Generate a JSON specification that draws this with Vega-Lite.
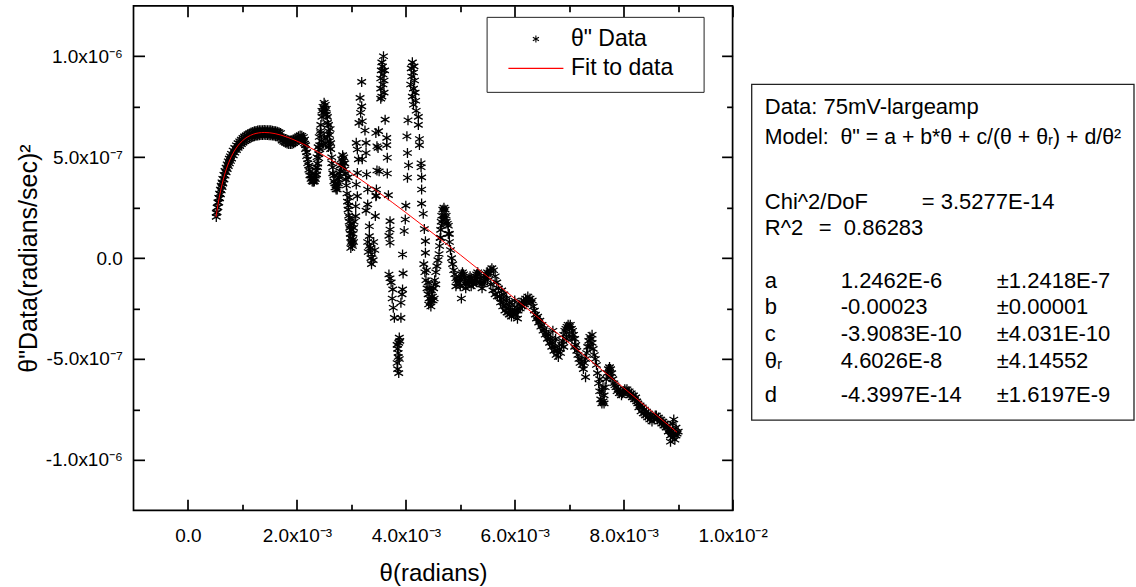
{
"$schema":"https://vega.github.io/schema/vega-lite/v6.json",
"background":"white",
"padding":{"left":15.5,"top":3.85,"right":0,"bottom":0},
"autosize":{"type":"pad"},
"bounds":"flush",
"spacing":18,
"config":{"font":"Liberation Sans","axis":{"labelFont":"Liberation Sans","titleFont":"Liberation Sans"},"legend":{"labelFont":"Liberation Sans"}},
"datasets":{
"fit":[{"x":0.515e-3,"y":0.203e-6},{"x":0.55e-3,"y":0.2638e-6},{"x":0.6e-3,"y":0.3346e-6},{"x":0.65e-3,"y":0.3912e-6},{"x":0.7e-3,"y":0.4371e-6},{"x":0.75e-3,"y":0.4744e-6},{"x":0.8e-3,"y":0.5049e-6},{"x":0.9e-3,"y":0.5506e-6},{"x":1.0e-3,"y":0.5814e-6},{"x":1.1e-3,"y":0.6015e-6},{"x":1.2e-3,"y":0.614e-6},{"x":1.3e-3,"y":0.6205e-6},{"x":1.4e-3,"y":0.6226e-6},{"x":1.5e-3,"y":0.6211e-6},{"x":1.6e-3,"y":0.6167e-6},{"x":1.8e-3,"y":0.6015e-6},{"x":2.0e-3,"y":0.5798e-6},{"x":2.5e-3,"y":0.5078e-6},{"x":3.0e-3,"y":0.421e-6},{"x":3.5e-3,"y":0.3259e-6},{"x":4.0e-3,"y":0.2257e-6},{"x":5.0e-3,"y":0.0163e-6},{"x":6.0e-3,"y":-0.2002e-6},{"x":7.0e-3,"y":-0.4205e-6},{"x":8.0e-3,"y":-0.6433e-6},{"x":8.98e-3,"y":-0.8633e-6}],
"stats":[
{"line":1,"col":0,"txt":"Data: 75mV-largeamp"},
{"line":2,"col":0,"txt":"Model: \u00a0θ\" = a + b*θ + c/(θ + θᵣ) + d/θ²"},
{"line":4,"col":0,"txt":"Chi^2/DoF"},
{"line":4,"col":3,"txt":"= 3.5277E-14"},
{"line":5,"col":0,"txt":"R^2"},
{"line":5,"col":1,"txt":"=\u00a0 0.86283"},
{"line":7,"col":0,"txt":"a"},{"line":7,"col":2,"txt":"1.2462E-6"},{"line":7,"col":4,"txt":"±1.2418E-7"},
{"line":8,"col":0,"txt":"b"},{"line":8,"col":2,"txt":"-0.00023"},{"line":8,"col":4,"txt":"±0.00001"},
{"line":9,"col":0,"txt":"c"},{"line":9,"col":2,"txt":"-3.9083E-10"},{"line":9,"col":4,"txt":"±4.031E-10"},
{"line":10,"col":0,"txt":"θᵣ"},{"line":10,"col":2,"txt":"4.6026E-8"},{"line":10,"col":4,"txt":"±4.14552"},
{"line":11,"col":0,"txt":"d"},{"line":11,"col":2,"txt":"-4.3997E-14"},{"line":11,"col":4,"txt":"±1.6197E-9"}
],
"pts":[
{"x":0.52e-3,"y":0.224e-6},{"x":0.52e-3,"y":0.204e-6},{"x":0.535e-3,"y":0.251e-6},{"x":0.535e-3,"y":0.227e-6},{"x":0.55e-3,"y":0.276e-6},{"x":0.55e-3,"y":0.252e-6},{"x":0.565e-3,"y":0.299e-6},{"x":0.565e-3,"y":0.275e-6},{"x":0.58e-3,"y":0.320e-6},{"x":0.58e-3,"y":0.296e-6},{"x":0.595e-3,"y":0.340e-6},{"x":0.595e-3,"y":0.316e-6},{"x":0.61e-3,"y":0.359e-6},{"x":0.61e-3,"y":0.335e-6},{"x":0.625e-3,"y":0.376e-6},{"x":0.625e-3,"y":0.352e-6},{"x":0.64e-3,"y":0.393e-6},{"x":0.64e-3,"y":0.369e-6},{"x":0.66e-3,"y":0.413e-6},{"x":0.66e-3,"y":0.389e-6},{"x":0.68e-3,"y":0.432e-6},{"x":0.68e-3,"y":0.408e-6},{"x":0.70e-3,"y":0.449e-6},{"x":0.70e-3,"y":0.425e-6},{"x":0.72e-3,"y":0.465e-6},{"x":0.72e-3,"y":0.441e-6},{"x":0.74e-3,"y":0.480e-6},{"x":0.74e-3,"y":0.456e-6},{"x":0.76e-3,"y":0.493e-6},{"x":0.76e-3,"y":0.469e-6},{"x":0.78e-3,"y":0.505e-6},{"x":0.78e-3,"y":0.481e-6},{"x":0.80e-3,"y":0.517e-6},{"x":0.80e-3,"y":0.493e-6},{"x":0.83e-3,"y":0.533e-6},{"x":0.83e-3,"y":0.509e-6},{"x":0.86e-3,"y":0.546e-6},{"x":0.86e-3,"y":0.522e-6},{"x":0.89e-3,"y":0.559e-6},{"x":0.89e-3,"y":0.535e-6},{"x":0.92e-3,"y":0.570e-6},{"x":0.92e-3,"y":0.546e-6},{"x":0.95e-3,"y":0.579e-6},{"x":0.95e-3,"y":0.555e-6},{"x":0.98e-3,"y":0.588e-6},{"x":0.98e-3,"y":0.564e-6},{"x":1.01e-3,"y":0.596e-6},{"x":1.01e-3,"y":0.572e-6},{"x":1.04e-3,"y":0.603e-6},{"x":1.04e-3,"y":0.579e-6},{"x":1.07e-3,"y":0.608e-6},{"x":1.07e-3,"y":0.584e-6},{"x":1.10e-3,"y":0.614e-6},{"x":1.10e-3,"y":0.590e-6},{"x":1.13e-3,"y":0.618e-6},{"x":1.13e-3,"y":0.594e-6},{"x":1.16e-3,"y":0.622e-6},{"x":1.16e-3,"y":0.598e-6},{"x":1.19e-3,"y":0.625e-6},{"x":1.19e-3,"y":0.601e-6},{"x":1.22e-3,"y":0.628e-6},{"x":1.22e-3,"y":0.604e-6},{"x":1.25e-3,"y":0.630e-6},{"x":1.25e-3,"y":0.606e-6},{"x":1.28e-3,"y":0.632e-6},{"x":1.28e-3,"y":0.608e-6},{"x":1.31e-3,"y":0.633e-6},{"x":1.31e-3,"y":0.609e-6},{"x":1.34e-3,"y":0.634e-6},{"x":1.34e-3,"y":0.610e-6},{"x":1.37e-3,"y":0.634e-6},{"x":1.37e-3,"y":0.610e-6},{"x":1.40e-3,"y":0.635e-6},{"x":1.40e-3,"y":0.611e-6},{"x":1.43e-3,"y":0.634e-6},{"x":1.43e-3,"y":0.610e-6},{"x":1.46e-3,"y":0.634e-6},{"x":1.46e-3,"y":0.610e-6},{"x":1.49e-3,"y":0.633e-6},{"x":1.49e-3,"y":0.609e-6},{"x":1.52e-3,"y":0.633e-6},{"x":1.52e-3,"y":0.609e-6},{"x":1.55e-3,"y":0.631e-6},{"x":1.55e-3,"y":0.607e-6},{"x":1.58e-3,"y":0.630e-6},{"x":1.58e-3,"y":0.606e-6},{"x":1.61e-3,"y":0.628e-6},{"x":1.61e-3,"y":0.604e-6},{"x":1.64e-3,"y":0.626e-6},{"x":1.64e-3,"y":0.602e-6},{"x":1.67e-3,"y":0.624e-6},{"x":1.67e-3,"y":0.600e-6},{"x":1.70e-3,"y":0.620e-6},{"x":1.70e-3,"y":0.596e-6},
{"x":1.73e-3,"y":0.600e-6},{"x":1.73e-3,"y":0.582e-6},{"x":1.76e-3,"y":0.594e-6},{"x":1.76e-3,"y":0.576e-6},{"x":1.79e-3,"y":0.590e-6},{"x":1.79e-3,"y":0.572e-6},{"x":1.82e-3,"y":0.586e-6},{"x":1.82e-3,"y":0.568e-6},{"x":1.85e-3,"y":0.584e-6},{"x":1.85e-3,"y":0.566e-6},{"x":1.88e-3,"y":0.583e-6},{"x":1.88e-3,"y":0.565e-6},{"x":1.91e-3,"y":0.584e-6},{"x":1.91e-3,"y":0.566e-6},{"x":1.94e-3,"y":0.587e-6},{"x":1.94e-3,"y":0.569e-6},{"x":1.97e-3,"y":0.592e-6},{"x":1.97e-3,"y":0.574e-6},{"x":2.00e-3,"y":0.598e-6},{"x":2.00e-3,"y":0.580e-6},{"x":2.03e-3,"y":0.604e-6},{"x":2.03e-3,"y":0.586e-6},{"x":2.06e-3,"y":0.608e-6},{"x":2.06e-3,"y":0.590e-6},{"x":2.09e-3,"y":0.606e-6},{"x":2.09e-3,"y":0.588e-6},{"x":2.12e-3,"y":0.600e-6},{"x":2.12e-3,"y":0.580e-6},{"x":2.14e-3,"y":0.588e-6},{"x":2.14e-3,"y":0.568e-6},
{"x":2.16e-3,"y":0.560e-6},{"x":2.16e-3,"y":0.540e-6},{"x":2.18e-3,"y":0.525e-6},{"x":2.18e-3,"y":0.505e-6},{"x":2.20e-3,"y":0.490e-6},{"x":2.20e-3,"y":0.470e-6},{"x":2.22e-3,"y":0.458e-6},{"x":2.22e-3,"y":0.438e-6},{"x":2.24e-3,"y":0.428e-6},{"x":2.24e-3,"y":0.410e-6},{"x":2.26e-3,"y":0.408e-6},{"x":2.26e-3,"y":0.392e-6},{"x":2.28e-3,"y":0.395e-6},{"x":2.28e-3,"y":0.380e-6},{"x":2.30e-3,"y":0.388e-6},{"x":2.30e-3,"y":0.378e-6},{"x":2.32e-3,"y":0.392e-6},{"x":2.32e-3,"y":0.380e-6},{"x":2.34e-3,"y":0.408e-6},{"x":2.34e-3,"y":0.392e-6},{"x":2.36e-3,"y":0.432e-6},{"x":2.36e-3,"y":0.415e-6},{"x":2.38e-3,"y":0.468e-6},{"x":2.38e-3,"y":0.450e-6},{"x":2.40e-3,"y":0.515e-6},{"x":2.40e-3,"y":0.495e-6},{"x":2.42e-3,"y":0.560e-6},{"x":2.42e-3,"y":0.540e-6},{"x":2.35e-3,"y":0.45e-6},{"x":2.37e-3,"y":0.50e-6},{"x":2.39e-3,"y":0.55e-6},{"x":2.41e-3,"y":0.60e-6},{"x":2.43e-3,"y":0.63e-6},
{"x":2.44e-3,"y":0.62e-6},{"x":2.44e-3,"y":0.66e-6},{"x":2.46e-3,"y":0.70e-6},{"x":2.46e-3,"y":0.73e-6},{"x":2.48e-3,"y":0.75e-6},{"x":2.48e-3,"y":0.72e-6},{"x":2.50e-3,"y":0.77e-6},{"x":2.50e-3,"y":0.74e-6},{"x":2.52e-3,"y":0.76e-6},{"x":2.52e-3,"y":0.73e-6},{"x":2.54e-3,"y":0.74e-6},{"x":2.54e-3,"y":0.71e-6},{"x":2.56e-3,"y":0.70e-6},{"x":2.56e-3,"y":0.67e-6},{"x":2.58e-3,"y":0.66e-6},{"x":2.58e-3,"y":0.63e-6},{"x":2.60e-3,"y":0.61e-6},{"x":2.60e-3,"y":0.58e-6},{"x":2.62e-3,"y":0.57e-6},{"x":2.62e-3,"y":0.54e-6},{"x":2.45e-3,"y":0.58e-6},{"x":2.48e-3,"y":0.56e-6},{"x":2.50e-3,"y":0.60e-6},{"x":2.53e-3,"y":0.57e-6},{"x":2.56e-3,"y":0.60e-6},{"x":2.58e-3,"y":0.55e-6},{"x":2.61e-3,"y":0.64e-6},
{"x":2.64e-3,"y":0.50e-6},{"x":2.64e-3,"y":0.47e-6},{"x":2.66e-3,"y":0.45e-6},{"x":2.66e-3,"y":0.42e-6},{"x":2.68e-3,"y":0.41e-6},{"x":2.68e-3,"y":0.38e-6},{"x":2.70e-3,"y":0.37e-6},{"x":2.70e-3,"y":0.35e-6},{"x":2.72e-3,"y":0.35e-6},{"x":2.72e-3,"y":0.34e-6},{"x":2.74e-3,"y":0.36e-6},{"x":2.74e-3,"y":0.34e-6},{"x":2.76e-3,"y":0.39e-6},{"x":2.76e-3,"y":0.37e-6},{"x":2.78e-3,"y":0.42e-6},{"x":2.78e-3,"y":0.40e-6},
{"x":2.80e-3,"y":0.46e-6},{"x":2.80e-3,"y":0.43e-6},{"x":2.82e-3,"y":0.49e-6},{"x":2.82e-3,"y":0.46e-6},{"x":2.84e-3,"y":0.51e-6},{"x":2.84e-3,"y":0.48e-6},{"x":2.86e-3,"y":0.50e-6},{"x":2.86e-3,"y":0.47e-6},{"x":2.88e-3,"y":0.47e-6},{"x":2.88e-3,"y":0.44e-6},{"x":2.90e-3,"y":0.42e-6},{"x":2.90e-3,"y":0.39e-6},
{"x":2.91e-3,"y":0.36e-6},{"x":2.92e-3,"y":0.32e-6},{"x":2.93e-3,"y":0.28e-6},{"x":2.94e-3,"y":0.24e-6},{"x":2.95e-3,"y":0.21e-6},{"x":2.96e-3,"y":0.18e-6},{"x":2.97e-3,"y":0.15e-6},{"x":2.98e-3,"y":0.12e-6},{"x":2.99e-3,"y":0.10e-6},{"x":3.00e-3,"y":0.08e-6},{"x":3.01e-3,"y":0.07e-6},{"x":3.02e-3,"y":0.09e-6},{"x":3.03e-3,"y":0.12e-6},{"x":3.04e-3,"y":0.15e-6},{"x":3.05e-3,"y":0.18e-6},{"x":2.97e-3,"y":0.20e-6},{"x":3.00e-3,"y":0.14e-6},{"x":3.02e-3,"y":0.06e-6},{"x":2.99e-3,"y":0.05e-6},{"x":3.04e-3,"y":0.08e-6},{"x":2.94e-3,"y":0.40e-6},{"x":2.96e-3,"y":0.30e-6},{"x":2.95e-3,"y":0.26e-6},{"x":3.01e-3,"y":0.17e-6},{"x":2.98e-3,"y":0.16e-6},
{"x":3.19e-3,"y":0.873e-6},{"x":3.16e-3,"y":0.794e-6},{"x":3.19e-3,"y":0.752e-6},{"x":3.17e-3,"y":0.72e-6},{"x":3.2e-3,"y":0.678e-6},{"x":3.14e-3,"y":0.67e-6},{"x":3.25e-3,"y":0.632e-6},{"x":3.27e-3,"y":0.571e-6},{"x":3.11e-3,"y":0.538e-6},{"x":3.09e-3,"y":0.571e-6},{"x":3.27e-3,"y":0.521e-6},{"x":3.13e-3,"y":0.489e-6},{"x":3.2e-3,"y":0.49e-6},{"x":3.11e-3,"y":0.422e-6},{"x":3.28e-3,"y":0.414e-6},{"x":3.09e-3,"y":0.365e-6},{"x":3.3e-3,"y":0.34e-6},{"x":3.11e-3,"y":0.307e-6},{"x":3.3e-3,"y":0.266e-6},{"x":3.08e-3,"y":0.257e-6},{"x":3.27e-3,"y":0.235e-6},{"x":3.08e-3,"y":0.208e-6},{"x":3.44e-3,"y":0.208e-6},{"x":3.33e-3,"y":0.158e-6},{"x":3.33e-3,"y":0.109e-6},
{"x":3.3e-3,"y":0.08e-6},{"x":3.33e-3,"y":0.06e-6},{"x":3.31e-3,"y":0.03e-6},{"x":3.36e-3,"y":0.0},{"x":3.38e-3,"y":0.02e-6},{"x":3.41e-3,"y":0.08e-6},{"x":3.37e-3,"y":-0.03e-6},{"x":3.35e-3,"y":0.05e-6},{"x":3.4e-3,"y":-0.01e-6},{"x":3.43e-3,"y":0.04e-6},
{"x":3.59e-3,"y":1.0e-6},{"x":3.57e-3,"y":0.95e-6},{"x":3.55e-3,"y":0.93e-6},{"x":3.58e-3,"y":0.91e-6},{"x":3.6e-3,"y":0.88e-6},{"x":3.54e-3,"y":0.89e-6},{"x":3.54e-3,"y":0.84e-6},{"x":3.6e-3,"y":0.82e-6},{"x":3.56e-3,"y":0.8e-6},{"x":3.54e-3,"y":0.79e-6},{"x":3.58e-3,"y":0.86e-6},{"x":3.56e-3,"y":0.97e-6},{"x":3.61e-3,"y":0.93e-6},
{"x":3.62e-3,"y":0.686e-6},{"x":3.5e-3,"y":0.629e-6},{"x":3.65e-3,"y":0.596e-6},{"x":3.65e-3,"y":0.56e-6},{"x":3.49e-3,"y":0.546e-6},{"x":3.45e-3,"y":0.62e-6},{"x":3.47e-3,"y":0.554e-6},{"x":3.66e-3,"y":0.497e-6},{"x":3.47e-3,"y":0.434e-6},{"x":3.51e-3,"y":0.43e-6},{"x":3.66e-3,"y":0.419e-6},{"x":3.46e-3,"y":0.34e-6},{"x":3.68e-3,"y":0.312e-6},{"x":3.46e-3,"y":0.31e-6},{"x":3.45e-3,"y":0.307e-6},{"x":3.71e-3,"y":0.183e-6},{"x":3.71e-3,"y":0.142e-6},{"x":3.71e-3,"y":0.076e-6},{"x":3.69e-3,"y":0.11e-6},{"x":3.69e-3,"y":-0.081e-6},{"x":3.71e-3,"y":-0.1e-6},{"x":3.76e-3,"y":-0.155e-6},{"x":3.77e-3,"y":-0.246e-6},{"x":3.79e-3,"y":-0.296e-6},{"x":3.91e-3,"y":-0.296e-6},{"x":3.91e-3,"y":-0.221e-6},{"x":3.73e-3,"y":-0.12e-6},{"x":3.75e-3,"y":-0.2e-6},
{"x":3.88e-3,"y":-0.394e-6},{"x":3.87e-3,"y":-0.42e-6},{"x":3.85e-3,"y":-0.45e-6},{"x":3.86e-3,"y":-0.49e-6},{"x":3.84e-3,"y":-0.52e-6},{"x":3.85e-3,"y":-0.55e-6},{"x":3.87e-3,"y":-0.57e-6},{"x":3.89e-3,"y":-0.41e-6},{"x":3.86e-3,"y":-0.47e-6},{"x":3.88e-3,"y":-0.5e-6},{"x":3.84e-3,"y":-0.43e-6},
{"x":4.04e-3,"y":0.683e-6},{"x":4.02e-3,"y":0.604e-6},{"x":4.03e-3,"y":0.521e-6},{"x":4.03e-3,"y":0.398e-6},{"x":4.05e-3,"y":0.46e-6},{"x":3.99e-3,"y":0.191e-6},{"x":3.97e-3,"y":0.134e-6},{"x":3.94e-3,"y":0.018e-6},{"x":3.95e-3,"y":-0.076e-6},{"x":3.94e-3,"y":-0.155e-6},{"x":3.93e-3,"y":-0.18e-6},{"x":4.0e-3,"y":0.26e-6},
{"x":4.12e-3,"y":0.97e-6},{"x":4.10e-3,"y":0.94e-6},{"x":4.14e-3,"y":0.92e-6},{"x":4.11e-3,"y":0.9e-6},{"x":4.16e-3,"y":0.88e-6},{"x":4.09e-3,"y":0.86e-6},{"x":4.14e-3,"y":0.84e-6},{"x":4.17e-3,"y":0.82e-6},{"x":4.12e-3,"y":0.8e-6},{"x":4.18e-3,"y":0.78e-6},{"x":4.14e-3,"y":0.76e-6},{"x":4.15e-3,"y":0.95e-6},{"x":4.19e-3,"y":0.73e-6},
{"x":4.23e-3,"y":0.70e-6},{"x":4.23e-3,"y":0.66e-6},{"x":4.25e-3,"y":0.59e-6},{"x":4.25e-3,"y":0.56e-6},{"x":4.28e-3,"y":0.47e-6},{"x":4.28e-3,"y":0.45e-6},{"x":4.29e-3,"y":0.40e-6},{"x":4.29e-3,"y":0.34e-6},{"x":4.29e-3,"y":0.27e-6},{"x":4.32e-3,"y":0.22e-6},{"x":4.34e-3,"y":0.144e-6},{"x":4.36e-3,"y":0.084e-6},{"x":4.36e-3,"y":0.026e-6},
{"x":4.33e-3,"y":-0.03e-6},{"x":4.35e-3,"y":-0.07e-6},{"x":4.37e-3,"y":-0.11e-6},{"x":4.39e-3,"y":-0.15e-6},{"x":4.41e-3,"y":-0.18e-6},{"x":4.43e-3,"y":-0.2e-6},{"x":4.45e-3,"y":-0.22e-6},{"x":4.47e-3,"y":-0.21e-6},{"x":4.49e-3,"y":-0.19e-6},{"x":4.51e-3,"y":-0.15e-6},{"x":4.53e-3,"y":-0.11e-6},{"x":4.55e-3,"y":-0.07e-6},{"x":4.57e-3,"y":-0.04e-6},{"x":4.59e-3,"y":-0.01e-6},{"x":4.61e-3,"y":0.02e-6},{"x":4.38e-3,"y":-0.06e-6},{"x":4.41e-3,"y":-0.12e-6},{"x":4.44e-3,"y":-0.15e-6},{"x":4.47e-3,"y":-0.16e-6},{"x":4.5e-3,"y":-0.21e-6},{"x":4.46e-3,"y":-0.24e-6},{"x":4.42e-3,"y":-0.23e-6},{"x":4.52e-3,"y":-0.2e-6},{"x":4.55e-3,"y":-0.13e-6},
{"x":4.62e-3,"y":0.06e-6},{"x":4.63e-3,"y":0.10e-6},{"x":4.64e-3,"y":0.14e-6},{"x":4.65e-3,"y":0.18e-6},{"x":4.66e-3,"y":0.21e-6},{"x":4.68e-3,"y":0.24e-6},{"x":4.70e-3,"y":0.25e-6},{"x":4.72e-3,"y":0.24e-6},{"x":4.74e-3,"y":0.21e-6},{"x":4.76e-3,"y":0.17e-6},{"x":4.78e-3,"y":0.12e-6},{"x":4.80e-3,"y":0.08e-6},{"x":4.82e-3,"y":0.04e-6},{"x":4.84e-3,"y":0.0},{"x":4.66e-3,"y":0.16e-6},{"x":4.70e-3,"y":0.21e-6},{"x":4.74e-3,"y":0.18e-6},{"x":4.64e-3,"y":0.10e-6},{"x":4.68e-3,"y":0.19e-6},{"x":4.72e-3,"y":0.20e-6},{"x":4.78e-3,"y":0.16e-6},{"x":4.8e-3,"y":0.12e-6},
{"x":4.86e-3,"y":-0.03e-6},{"x":4.88e-3,"y":-0.06e-6},{"x":4.90e-3,"y":-0.08e-6},{"x":4.92e-3,"y":-0.10e-6},{"x":4.94e-3,"y":-0.11e-6},{"x":4.96e-3,"y":-0.12e-6},{"x":4.98e-3,"y":-0.11e-6},{"x":5.00e-3,"y":-0.10e-6},{"x":5.02e-3,"y":-0.08e-6},{"x":5.04e-3,"y":-0.07e-6},{"x":5.06e-3,"y":-0.08e-6},{"x":5.08e-3,"y":-0.10e-6},{"x":5.10e-3,"y":-0.12e-6},{"x":5.12e-3,"y":-0.13e-6},{"x":5.14e-3,"y":-0.12e-6},{"x":5.16e-3,"y":-0.10e-6},{"x":5.18e-3,"y":-0.09e-6},{"x":5.20e-3,"y":-0.10e-6},{"x":5.22e-3,"y":-0.12e-6},{"x":5.24e-3,"y":-0.13e-6},{"x":5.26e-3,"y":-0.11e-6},{"x":5.28e-3,"y":-0.09e-6},{"x":5.30e-3,"y":-0.08e-6},{"x":5.32e-3,"y":-0.07e-6},{"x":5.34e-3,"y":-0.08e-6},{"x":5.36e-3,"y":-0.10e-6},{"x":5.38e-3,"y":-0.12e-6},{"x":5.40e-3,"y":-0.13e-6},{"x":5.42e-3,"y":-0.12e-6},{"x":5.44e-3,"y":-0.10e-6},{"x":5.46e-3,"y":-0.09e-6},{"x":5.48e-3,"y":-0.08e-6},{"x":5.50e-3,"y":-0.07e-6},{"x":5.02e-3,"y":-0.20e-6},{"x":4.92e-3,"y":-0.14e-6},{"x":5.0e-3,"y":-0.14e-6},{"x":5.1e-3,"y":-0.15e-6},{"x":5.2e-3,"y":-0.14e-6},{"x":5.3e-3,"y":-0.12e-6},{"x":5.4e-3,"y":-0.15e-6},{"x":5.5e-3,"y":-0.11e-6},
{"x":5.52e-3,"y":-0.08e-6},{"x":5.55e-3,"y":-0.06e-6},{"x":5.58e-3,"y":-0.05e-6},{"x":5.61e-3,"y":-0.06e-6},{"x":5.64e-3,"y":-0.09e-6},{"x":5.67e-3,"y":-0.12e-6},{"x":5.70e-3,"y":-0.15e-6},{"x":5.56e-3,"y":-0.13e-6},{"x":5.60e-3,"y":-0.16e-6},{"x":5.64e-3,"y":-0.18e-6},{"x":5.68e-3,"y":-0.19e-6},
{"x":5.72e-3,"y":-0.19e-6},{"x":5.74e-3,"y":-0.22e-6},{"x":5.76e-3,"y":-0.2e-6},{"x":5.78e-3,"y":-0.24e-6},{"x":5.8e-3,"y":-0.22e-6},{"x":5.82e-3,"y":-0.26e-6},{"x":5.84e-3,"y":-0.24e-6},{"x":5.86e-3,"y":-0.27e-6},{"x":5.88e-3,"y":-0.25e-6},{"x":5.9e-3,"y":-0.28e-6},{"x":5.92e-3,"y":-0.26e-6},{"x":5.94e-3,"y":-0.29e-6},{"x":5.96e-3,"y":-0.27e-6},{"x":5.98e-3,"y":-0.28e-6},{"x":6.0e-3,"y":-0.26e-6},{"x":6.02e-3,"y":-0.28e-6},{"x":6.04e-3,"y":-0.25e-6},{"x":6.06e-3,"y":-0.26e-6},{"x":6.08e-3,"y":-0.23e-6},{"x":6.1e-3,"y":-0.25e-6},{"x":6.12e-3,"y":-0.22e-6},{"x":6.14e-3,"y":-0.24e-6},{"x":6.16e-3,"y":-0.21e-6},{"x":6.18e-3,"y":-0.23e-6},{"x":6.2e-3,"y":-0.2e-6},{"x":6.22e-3,"y":-0.22e-6},{"x":6.24e-3,"y":-0.19e-6},{"x":6.26e-3,"y":-0.21e-6},{"x":6.28e-3,"y":-0.2e-6},{"x":6.3e-3,"y":-0.22e-6},{"x":6.32e-3,"y":-0.21e-6},{"x":6.34e-3,"y":-0.24e-6},{"x":6.36e-3,"y":-0.26e-6},{"x":6.38e-3,"y":-0.28e-6},{"x":6.4e-3,"y":-0.3e-6},{"x":6.42e-3,"y":-0.29e-6},{"x":6.44e-3,"y":-0.32e-6},{"x":6.46e-3,"y":-0.31e-6},{"x":6.48e-3,"y":-0.34e-6},{"x":6.5e-3,"y":-0.33e-6},{"x":6.52e-3,"y":-0.36e-6},{"x":6.54e-3,"y":-0.35e-6},{"x":6.56e-3,"y":-0.38e-6},{"x":5.76e-3,"y":-0.16e-6},{"x":5.8e-3,"y":-0.18e-6},{"x":5.85e-3,"y":-0.2e-6},{"x":5.9e-3,"y":-0.22e-6},{"x":5.95e-3,"y":-0.23e-6},{"x":6.0e-3,"y":-0.21e-6},{"x":6.05e-3,"y":-0.3e-6},
{"x":6.58e-3,"y":-0.37e-6},{"x":6.6e-3,"y":-0.4e-6},{"x":6.62e-3,"y":-0.38e-6},{"x":6.64e-3,"y":-0.42e-6},{"x":6.66e-3,"y":-0.4e-6},{"x":6.68e-3,"y":-0.44e-6},{"x":6.7e-3,"y":-0.42e-6},{"x":6.72e-3,"y":-0.46e-6},{"x":6.74e-3,"y":-0.44e-6},{"x":6.76e-3,"y":-0.48e-6},{"x":6.78e-3,"y":-0.46e-6},{"x":6.8e-3,"y":-0.49e-6},{"x":6.82e-3,"y":-0.45e-6},{"x":6.84e-3,"y":-0.47e-6},{"x":6.86e-3,"y":-0.43e-6},{"x":6.88e-3,"y":-0.41e-6},{"x":6.9e-3,"y":-0.38e-6},{"x":6.92e-3,"y":-0.36e-6},{"x":6.94e-3,"y":-0.35e-6},{"x":6.96e-3,"y":-0.34e-6},{"x":6.98e-3,"y":-0.33e-6},{"x":7.0e-3,"y":-0.34e-6},{"x":7.02e-3,"y":-0.33e-6},{"x":7.04e-3,"y":-0.35e-6},{"x":7.06e-3,"y":-0.36e-6},{"x":7.08e-3,"y":-0.38e-6},{"x":7.1e-3,"y":-0.4e-6},{"x":6.95e-3,"y":-0.4e-6},{"x":7.0e-3,"y":-0.38e-6},{"x":7.05e-3,"y":-0.4e-6},{"x":6.9e-3,"y":-0.44e-6},{"x":7.1e-3,"y":-0.44e-6},{"x":6.7e-3,"y":-0.36e-6},{"x":6.75e-3,"y":-0.4e-6},
{"x":7.12e-3,"y":-0.43e-6},{"x":7.14e-3,"y":-0.46e-6},{"x":7.16e-3,"y":-0.48e-6},{"x":7.18e-3,"y":-0.5e-6},{"x":7.2e-3,"y":-0.52e-6},{"x":7.22e-3,"y":-0.5e-6},{"x":7.24e-3,"y":-0.53e-6},{"x":7.26e-3,"y":-0.55e-6},{"x":7.28e-3,"y":-0.52e-6},{"x":7.3e-3,"y":-0.59e-6},{"x":7.3e-3,"y":-0.5e-6},{"x":7.32e-3,"y":-0.47e-6},{"x":7.34e-3,"y":-0.44e-6},{"x":7.36e-3,"y":-0.41e-6},{"x":7.38e-3,"y":-0.39e-6},{"x":7.40e-3,"y":-0.4e-6},{"x":7.42e-3,"y":-0.42e-6},{"x":7.44e-3,"y":-0.45e-6},{"x":7.46e-3,"y":-0.48e-6},{"x":7.48e-3,"y":-0.5e-6},{"x":7.5e-3,"y":-0.53e-6},{"x":7.38e-3,"y":-0.44e-6},{"x":7.42e-3,"y":-0.38e-6},
{"x":7.52e-3,"y":-0.57e-6},{"x":7.54e-3,"y":-0.62e-6},{"x":7.56e-3,"y":-0.66e-6},{"x":7.58e-3,"y":-0.7e-6},{"x":7.6e-3,"y":-0.72e-6},{"x":7.62e-3,"y":-0.71e-6},{"x":7.64e-3,"y":-0.68e-6},{"x":7.66e-3,"y":-0.64e-6},{"x":7.68e-3,"y":-0.6e-6},{"x":7.56e-3,"y":-0.6e-6},{"x":7.6e-3,"y":-0.66e-6},{"x":7.64e-3,"y":-0.72e-6},{"x":7.62e-3,"y":-0.64e-6},
{"x":7.7e-3,"y":-0.57e-6},{"x":7.72e-3,"y":-0.55e-6},{"x":7.74e-3,"y":-0.54e-6},{"x":7.76e-3,"y":-0.55e-6},{"x":7.78e-3,"y":-0.57e-6},{"x":7.8e-3,"y":-0.6e-6},{"x":7.82e-3,"y":-0.62e-6},{"x":7.84e-3,"y":-0.63e-6},{"x":7.75e-3,"y":-0.59e-6},
{"x":7.86e-3,"y":-0.64e-6},{"x":7.88e-3,"y":-0.66e-6},{"x":7.9e-3,"y":-0.65e-6},{"x":7.92e-3,"y":-0.67e-6},{"x":7.94e-3,"y":-0.66e-6},{"x":7.96e-3,"y":-0.68e-6},{"x":7.98e-3,"y":-0.67e-6},{"x":8.0e-3,"y":-0.66e-6},{"x":8.02e-3,"y":-0.65e-6},{"x":8.04e-3,"y":-0.66e-6},{"x":8.06e-3,"y":-0.65e-6},{"x":8.08e-3,"y":-0.67e-6},{"x":8.1e-3,"y":-0.66e-6},{"x":8.12e-3,"y":-0.68e-6},{"x":8.14e-3,"y":-0.67e-6},{"x":8.16e-3,"y":-0.69e-6},{"x":8.18e-3,"y":-0.68e-6},{"x":8.2e-3,"y":-0.7e-6},{"x":8.22e-3,"y":-0.69e-6},{"x":8.24e-3,"y":-0.71e-6},{"x":8.26e-3,"y":-0.72e-6},{"x":8.28e-3,"y":-0.74e-6},{"x":8.3e-3,"y":-0.73e-6},
{"x":8.32e-3,"y":-0.76e-6},{"x":8.34e-3,"y":-0.74e-6},{"x":8.36e-3,"y":-0.77e-6},{"x":8.38e-3,"y":-0.75e-6},{"x":8.4e-3,"y":-0.78e-6},{"x":8.42e-3,"y":-0.76e-6},{"x":8.44e-3,"y":-0.79e-6},{"x":8.46e-3,"y":-0.77e-6},{"x":8.48e-3,"y":-0.8e-6},{"x":8.5e-3,"y":-0.78e-6},{"x":8.52e-3,"y":-0.81e-6},{"x":8.54e-3,"y":-0.79e-6},{"x":8.56e-3,"y":-0.8e-6},{"x":8.58e-3,"y":-0.78e-6},{"x":8.6e-3,"y":-0.78e-6},{"x":8.62e-3,"y":-0.8e-6},{"x":8.64e-3,"y":-0.79e-6},{"x":8.66e-3,"y":-0.81e-6},{"x":8.68e-3,"y":-0.8e-6},{"x":8.7e-3,"y":-0.82e-6},{"x":8.72e-3,"y":-0.81e-6},{"x":8.74e-3,"y":-0.83e-6},{"x":8.76e-3,"y":-0.82e-6},
{"x":8.78e-3,"y":-0.84e-6},{"x":8.8e-3,"y":-0.83e-6},{"x":8.82e-3,"y":-0.86e-6},{"x":8.84e-3,"y":-0.85e-6},{"x":8.86e-3,"y":-0.88e-6},{"x":8.88e-3,"y":-0.86e-6},{"x":8.9e-3,"y":-0.89e-6},{"x":8.92e-3,"y":-0.87e-6},{"x":8.94e-3,"y":-0.9e-6},{"x":8.96e-3,"y":-0.88e-6},{"x":8.98e-3,"y":-0.87e-6},{"x":8.86e-3,"y":-0.91e-6},{"x":8.9e-3,"y":-0.82e-6},{"x":8.96e-3,"y":-0.84e-6},{"x":8.92e-3,"y":-0.8e-6},{"x":9.0e-3,"y":-0.86e-6}
]
},
"hconcat":[
{
"width":599.1,"height":504.5,
"view":{"stroke":"black","strokeWidth":1.7},
"layer":[
{
"data":{"name":"pts"},
"mark":{"type":"point","filled":false,"size":100,"strokeWidth":1.3,"opacity":1},
"encoding":{
"x":{"field":"x","type":"quantitative","scale":{"domain":[-0.001,0.01],"nice":false,"zero":false},
"axis":{"orient":"bottom","values":[0,0.001,0.002,0.003,0.004,0.005,0.006,0.007,0.008,0.009,0.01],
"labelExpr":"round(datum.value*1000) == 0 ? '0.0' : (round(datum.value*1000) % 2 != 0 ? '' : (round(datum.value*1000) == 10 ? '1.0x10⁻²' : format(round(datum.value*1000), '.1f') + 'x10⁻³'))",
"domain":false,"grid":false,"tickColor":"black","tickWidth":1.7,
"tickSize":{"condition":{"test":"round(datum.value*1000) % 2 == 0","value":-11},"value":-6},
"labelFontSize":19,"labelColor":"black","labelBaseline":"alphabetic","labelAlign":"center","labelPadding":41.8,"labelOverlap":false,"labelFlush":false,"labelBound":false,
"title":"θ(radians)","titleFontSize":24,"titleFontWeight":"normal","titleColor":"black","titleBaseline":"alphabetic","titleY":69.8}},
"y":{"field":"y","type":"quantitative","scale":{"domain":[-1.25e-6,1.25e-6],"nice":false,"zero":false},
"axis":{"orient":"left","values":[-1e-6,-7.5e-7,-5e-7,-2.5e-7,0,2.5e-7,5e-7,7.5e-7,1e-6],
"labelExpr":"round(datum.value*4e6) == 0 ? '0.0' : (round(datum.value*4e6) % 2 != 0 ? '' : ((datum.value < 0 ? '-' : '') + (abs(round(datum.value*4e6)) == 4 ? '1.0x10⁻⁶' : '5.0x10⁻⁷')))",
"domain":false,"grid":false,"tickColor":"black","tickWidth":1.7,
"tickSize":{"condition":{"test":"round(datum.value*4e6) % 2 == 0","value":-11},"value":-6},
"labelFontSize":19,"labelColor":"black","labelAlign":"right","labelBaseline":"middle","labelPadding":22.2,"labelOverlap":false,"labelFlush":false,"labelBound":false,
"title":"θ\"Data(radians/sec)²","titleFontSize":25,"titleFontWeight":"normal","titleColor":"black","titleBaseline":"alphabetic","titleX":-97,"titleY":252.25,"titleAngle":-90}},
"color":{"datum":"θ\" Data","type":"nominal","scale":{"domain":["θ\" Data","Fit to data"],"range":["#000000","#ff0000"]},
"legend":{"orient":"none","legendX":353.1,"legendY":11,"title":null,"padding":10.6,"strokeColor":"#222222","fillColor":"white",
"labelFontSize":23,"labelColor":"black","symbolSize":49,"symbolStrokeWidth":1.1,"symbolOffset":27.2,"labelOffset":23.6,"rowPadding":5.4,
"labelExpr":"datum.label + '\u00a0\u00a0\u00a0\u200b'"}},
"shape":{"datum":"θ\" Data","type":"nominal","scale":{"domain":["θ\" Data","Fit to data"],"range":["M0,-1V1M-0.87,-0.5L0.87,0.5M-0.87,0.5L0.87,-0.5","M-7.857,0H7.857"]},
"legend":{"orient":"none","legendX":353.1,"legendY":11,"title":null,"padding":10.6,"strokeColor":"#222222","fillColor":"white",
"labelFontSize":23,"labelColor":"black","symbolSize":49,"symbolStrokeWidth":1.1,"symbolOffset":27.2,"labelOffset":23.6,"rowPadding":5.4,
"labelExpr":"datum.label + '\u00a0\u00a0\u00a0\u200b'"}}
}
},
{
"data":{"name":"fit"},
"mark":{"type":"line","strokeWidth":1,"interpolate":"monotone"},
"encoding":{
"x":{"field":"x","type":"quantitative","axis":{"orient":"top","values":[0,0.001,0.002,0.003,0.004,0.005,0.006,0.007,0.008,0.009,0.01],"labels":false,"domain":false,"grid":false,"tickColor":"black","tickWidth":1.7,"tickSize":{"condition":{"test":"round(datum.value*1000) % 2 == 0","value":-11},"value":-6},"title":null}},
"y":{"field":"y","type":"quantitative","axis":{"orient":"right","values":[-1e-6,-7.5e-7,-5e-7,-2.5e-7,0,2.5e-7,5e-7,7.5e-7,1e-6],"labels":false,"domain":false,"grid":false,"tickColor":"black","tickWidth":1.7,"tickSize":{"condition":{"test":"round(datum.value*4e6) % 2 == 0","value":-11},"value":-6},"title":null}},
"color":{"datum":"Fit to data","type":"nominal"}
}
}
],
"resolve":{"axis":{"x":"independent","y":"independent"}}
},
{
"bounds":"flush",
"spacing":10.3,
"vconcat":[
{"width":382.3,"height":68,"view":{"stroke":null},"data":{"values":[]},"mark":"text"},
{
"width":382.3,"height":335.7,
"view":{"stroke":"#222222","strokeWidth":1.3},
"data":{"name":"stats"},
"encoding":{
"x":{"field":"col","type":"quantitative","scale":{"domain":[0,1,2,3,4],"range":[13.3,67.3,89.3,170.3,245.3],"nice":false,"zero":false},"axis":null},
"y":{"field":"line","type":"quantitative","scale":{"domain":[1,2,4,5,7,8,9,10,11],"range":[30,60,125,150.7,203.7,229.8,257,283.7,318.3],"nice":false,"zero":false},"axis":null},
"text":{"field":"txt"}
},
"layer":[
{"transform":[{"filter":"datum.line != 2"}],"mark":{"type":"text","align":"left","baseline":"alphabetic","font":"Liberation Sans","fontSize":22,"color":"black"}},
{"transform":[{"filter":"datum.line == 2"}],"mark":{"type":"text","align":"left","baseline":"alphabetic","font":"Liberation Sans","fontSize":21.3,"color":"black"}}
]
}
]
}
]
}
